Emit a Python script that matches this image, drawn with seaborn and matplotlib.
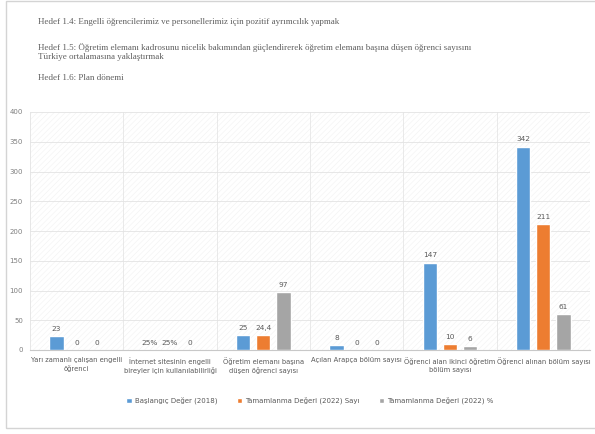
import matplotlib
matplotlib.use("Agg")
import matplotlib.pyplot as plt
from matplotlib.patches import Rectangle
import seaborn as sns
import pandas as pd
import numpy as np

categories = [
    "Yarı zamanlı çalışan engelli\nöğrenci",
    "İnternet sitesinin engelli\nbireyler için kullanılabilirliği",
    "Öğretim elemanı başına\ndüşen öğrenci sayısı",
    "Açılan Arapça bölüm sayısı",
    "Öğrenci alan ikinci öğretim\nbölüm sayısı",
    "Öğrenci alınan bölüm sayısı",
]
series = ["Başlangıç Değer (2018)", "Tamamlanma Değeri (2022) Sayı", "Tamamlanma Değeri (2022) %"]
baslangic = [23, 0.25, 25, 8, 147, 342]
tamam_sayi = [0, 0.25, 24.4, 0, 10, 211]
tamam_yuzde = [0, 0, 97, 0, 6, 61]
labels_b = ["23", "25%", "25", "8", "147", "342"]
labels_s = ["0", "25%", "24,4", "0", "10", "211"]
labels_y = ["0", "0", "97", "0", "6", "61"]
colors = ["#5B9BD5", "#ED7D31", "#A5A5A5"]

headers = [
    "Hedef 1.4: Engelli öğrencilerimiz ve personellerimiz için pozitif ayrımcılık yapmak",
    "Hedef 1.5: Öğretim elemanı kadrosunu nicelik bakımından güçlendirerek öğretim elemanı başına düşen öğrenci sayısını\nTürkiye ortalamasına yaklaştırmak",
    "Hedef 1.6: Plan dönemi",
]

df = pd.DataFrame({
    "cat": categories * 3,
    "series": [series[0]] * 6 + [series[1]] * 6 + [series[2]] * 6,
    "val": baslangic + tamam_sayi + tamam_yuzde,
})

sns.set_style("white")
plt.rcParams["font.family"] = ["DejaVu Sans"]

fig = plt.figure(figsize=(5.95, 4.34), dpi=100)
ax = fig.add_axes([30 / 595, (434 - 350) / 434, 560 / 595, 238 / 434])

sns.barplot(data=df, x="cat", y="val", hue="series", hue_order=series,
            palette=colors, width=0.65, gap=0.3, ax=ax, legend=True,
            saturation=1, errorbar=None, zorder=3)

ax.set_ylim(0, 400)
ax.set_xlim(-0.5, 5.5)
ax.set_yticks(range(0, 401, 50))
ax.set_xlabel("")
ax.set_ylabel("")
ax.tick_params(axis="y", labelsize=5, colors="#7f7f7f", length=0, pad=5)
ax.tick_params(axis="x", labelsize=4.9, colors="#595959", length=0, pad=5)
for t in ax.get_xticklabels():
    t.set_linespacing(1.35)
ax.grid(axis="y", color="#e3e3e3", lw=0.6, zorder=0)
ax.set_xticks(np.arange(0.5, 5.5, 1), minor=True)
ax.tick_params(axis="x", which="minor", length=0)
ax.grid(axis="x", which="minor", color="#e6e6e6", lw=0.6, zorder=0)
ax.grid(axis="x", which="major", visible=False)
for s in ["top", "right"]:
    ax.spines[s].set_visible(False)
ax.spines["left"].set_color("#e3e3e3")
ax.spines["left"].set_linewidth(0.6)
ax.spines["bottom"].set_color("#c8c8c8")
ax.spines["bottom"].set_linewidth(0.8)

plt.rcParams["hatch.linewidth"] = 0.4
ax.add_patch(Rectangle((0, 0), 1, 1, transform=ax.transAxes, hatch="//////",
                       facecolor="none", edgecolor="#f2f2f2", lw=0, zorder=0))

all_labels = [labels_b, labels_s, labels_y]
for cont, labs in zip(ax.containers, all_labels):
    ax.bar_label(cont, labels=labs, padding=3, fontsize=5.3, color="#595959")

handles, lbls = ax.get_legend_handles_labels()
ax.legend(handles, lbls, loc="upper center", bbox_to_anchor=(0.5, -0.17),
          ncol=3, frameon=False, fontsize=5, handlelength=0.8, handleheight=0.8,
          columnspacing=2.8, handletextpad=0.4, labelcolor="#595959")

# header texts
hkw = dict(fontsize=6.5, color="#5f5f5f", family="Liberation Serif", va="center")
fig.text(38 / 595, 1 - 22 / 434, headers[0], **hkw)
fig.text(38 / 595, 1 - 52 / 434, headers[1], linespacing=1.05, **hkw)
fig.text(38 / 595, 1 - 78 / 434, headers[2], **hkw)

# page border
fig.add_artist(Rectangle((6 / 595, 1 - 428 / 434), 1.2, 427 / 434,
                         transform=fig.transFigure, facecolor="none",
                         edgecolor="#d4d4d4", lw=1))

fig.savefig("out.png", dpi=100)
